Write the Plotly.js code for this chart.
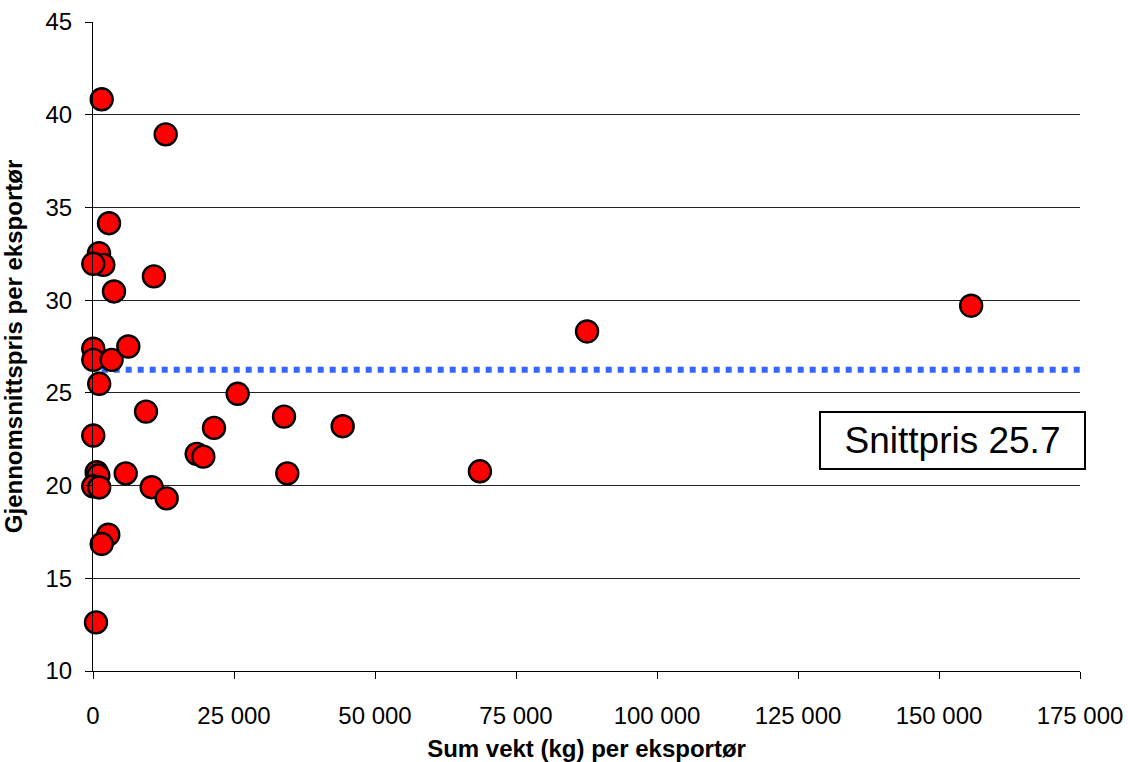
<!DOCTYPE html>
<html>
<head>
<meta charset="utf-8">
<script src="https://cdn.plot.ly/plotly-3.0.1.min.js"></script>
<style>html,body{margin:0;padding:0;background:#fff;}#chart{width:1128px;height:762px;}</style>
</head>
<body>
<div id="chart"></div>
<script>
// Sum weight (kg) per exporter
const weightKg = [1540, 12890, 2840, 1060, 1830, 50, 10800, 3720, 50, 50, 3300, 6260, 1100, 9400, 25650, 50, 21450, 33870, 44270, 18380, 19560, 650, 950, 50, 1100, 5800, 10400, 13060, 2710, 1540, 530, 34450, 68600, 87600, 155700];
// Average price per exporter
const avgPrice = [40.83, 38.94, 34.15, 32.53, 31.90, 31.96, 31.28, 30.47, 27.38, 26.78, 26.78, 27.50, 25.49, 23.99, 24.95, 22.70, 23.11, 23.72, 23.20, 21.71, 21.56, 20.72, 20.54, 19.96, 19.90, 20.66, 19.91, 19.31, 17.35, 16.85, 12.62, 20.66, 20.77, 28.31, 29.70];
// Average-price reference line
const avgLineX = [1540, 175000];
const avgLineY = [26.24, 26.24];
const avgLabel = "Snittpris 25.7";
const xTitle = "Sum vekt (kg) per eksportør";
const yTitle = "Gjennomsnittspris per eksportør";
const xTickVals = [0, 25000, 50000, 75000, 100000, 125000, 150000, 175000];
const yTickVals = [10, 15, 20, 25, 30, 35, 40, 45];
const annX = 152400, annY = 22.45;

const font = "Liberation Sans, Arial, sans-serif";

const traces = [
  {
    type: "scatter", mode: "lines", x: avgLineX, y: avgLineY,
    line: {color: "#3366FF", width: 6, dash: "6px,6px"},
    showlegend: false, hoverinfo: "skip"
  },
  {
    type: "scatter", mode: "markers", x: weightKg, y: avgPrice, cliponaxis: false,
    marker: {color: "#FF0000", size: 22, line: {color: "#000000", width: 2.4}},
    hoverinfo: "x+y", showlegend: false
  }
];

const layout = {
  width: 1128, height: 762,
  margin: {l: 93, r: 48, t: 22, b: 91, pad: 0},
  paper_bgcolor: "#ffffff", plot_bgcolor: "#ffffff",
  separators: ", ",
  font: {family: font, color: "#000000", size: 24},
  showlegend: false,
  xaxis: {
    range: [0, 175000], tickvals: xTickVals, tickformat: ",d",
    showgrid: false, zeroline: false,
    showline: true, linecolor: "#000000", linewidth: 1,
    ticks: "outside", ticklen: 7, tickcolor: "#000000", tickwidth: 1,
    tickfont: {family: font, size: 24, color: "#000000"},
    ticklabelstandoff: 16,
    title: {text: xTitle, font: {family: font, size: 24, color: "#000000", weight: "bold"}, standoff: 13},
    automargin: false
  },
  yaxis: {
    range: [10, 45], tickvals: yTickVals,
    showgrid: true, gridcolor: "#222222", gridwidth: 1, zeroline: false,
    showline: true, linecolor: "#000000", linewidth: 1,
    ticks: "outside", ticklen: 7, tickcolor: "#000000", tickwidth: 1,
    tickfont: {family: font, size: 24, color: "#000000"},
    ticklabelstandoff: 8,
    title: {text: yTitle, font: {family: font, size: 24, color: "#000000", weight: "bold"}, standoff: 17},
    automargin: false
  },
  annotations: [{
    x: annX, y: annY, xref: "x", yref: "y", text: avgLabel, showarrow: false,
    font: {family: font, size: 37, color: "#000000"},
    bgcolor: "#ffffff", bordercolor: "#000000", borderwidth: 2,
    width: 261, height: 53, align: "center", valign: "middle"
  }]
};

Plotly.newPlot("chart", traces, layout, {displayModeBar: false, staticPlot: true});
</script>
</body>
</html>
